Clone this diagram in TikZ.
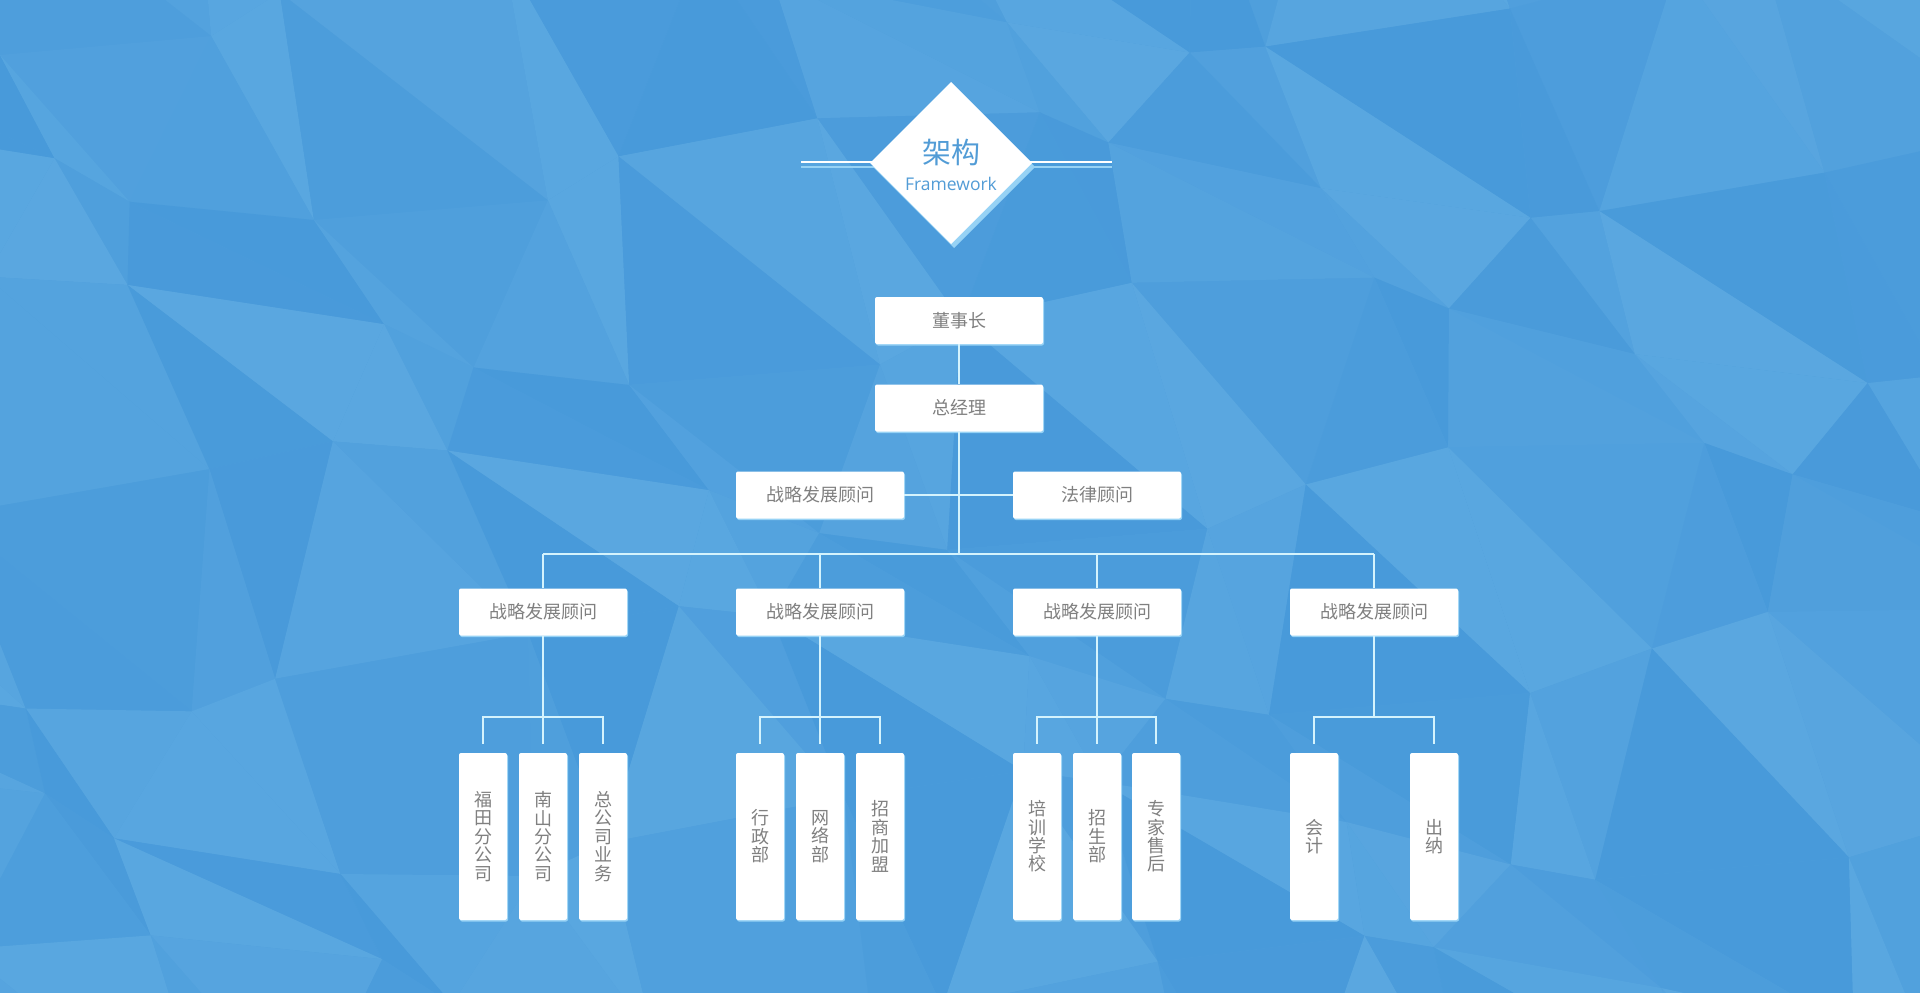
\documentclass[tikz,border=0pt]{standalone}
\usepackage{fontspec}
\setmainfont{Open Sans}
\newfontfamily\cjk{Noto Sans CJK SC}
\usetikzlibrary{shadows}
\definecolor{bgdark}{RGB}{70,152,217}
\definecolor{bglight}{RGB}{92,169,225}
\definecolor{bgbase}{RGB}{80,160,221}
\definecolor{linec}{RGB}{212,243,253}
\definecolor{txt}{RGB}{128,128,128}
\definecolor{titleblue}{RGB}{82,156,214}
\definecolor{shadowblue}{RGB}{150,210,245}
\begin{document}
\begin{tikzpicture}[x=1pt,y=-1pt,
  box/.style={fill=white, rounded corners=2pt, minimum width=168pt, minimum height=47pt,
    inner sep=0pt, font=\cjk\fontsize{18}{18}\selectfont, text=txt,
    drop shadow={shadow xshift=1pt, shadow yshift=-1.5pt, fill=shadowblue, opacity=1}},
  subbox/.style={box, minimum width=48pt, minimum height=167pt, align=center,
    font=\cjk\fontsize{18}{18.4}\selectfont},
  conn/.style={draw=linec, line width=1.4pt}]
\useasboundingbox (0,0) rectangle (1920,993);
% background
\fill[bgbase] (0,0) rectangle (1920,993);
\begin{scope}
\clip (0,0) rectangle (1920,993);
\foreach \i in {-1,...,12} {
  \foreach \j in {-1,...,6} {
    \pgfmathsetmacro\pAx{\i*165+55*sin(\i*123+\j*457)}
    \pgfmathsetmacro\pAy{\j*165+55*cos(\i*311+\j*97)}
    \pgfmathsetmacro\pBx{(\i+1)*165+55*sin((\i+1)*123+\j*457)}
    \pgfmathsetmacro\pBy{\j*165+55*cos((\i+1)*311+\j*97)}
    \pgfmathsetmacro\pCx{\i*165+55*sin(\i*123+(\j+1)*457)}
    \pgfmathsetmacro\pCy{(\j+1)*165+55*cos(\i*311+(\j+1)*97)}
    \pgfmathsetmacro\pDx{(\i+1)*165+55*sin((\i+1)*123+(\j+1)*457)}
    \pgfmathsetmacro\pDy{(\j+1)*165+55*cos((\i+1)*311+(\j+1)*97)}
    \pgfmathtruncatemacro\shA{50+40*sin(\i*77+\j*191)}
    \pgfmathtruncatemacro\shB{50+40*sin(\i*143+\j*59+40)}
    \fill[bglight!\shA!bgdark] (\pAx,\pAy) -- (\pBx,\pBy) -- (\pDx,\pDy) -- cycle;
    \fill[bglight!\shB!bgdark] (\pAx,\pAy) -- (\pDx,\pDy) -- (\pCx,\pCy) -- cycle;
  }
}
\end{scope}
% title
\draw[white, line width=1.8pt] (801,162) -- (1112,162);
\draw[shadowblue, line width=2pt] (801,167) -- (1112,167);
\fill[shadowblue] (954,86) -- (1035,167) -- (954,248) -- (873,167) -- cycle;
\fill[white] (951,82) -- (1032,163) -- (951,244) -- (870,163) -- cycle;
\node[text=titleblue, font=\cjk\fontsize{29}{29}\selectfont, inner sep=0pt] (tcn) at (951,152) {架构};
\node[text=titleblue, font=\fontsize{17.5}{17.5}\selectfont, inner sep=0pt, anchor=base] (ten) at (951,190) {Framework};
% nodes
\node[box] (ceo) at (959,320.5) {董事长};
\node[box] (gm) at (959,408) {总经理};
\node[box] (adv1) at (820,495) {战略发展顾问};
\node[box] (adv2) at (1097,495) {法律顾问};
\node[box] (m1) at (543,612) {战略发展顾问};
\node[box] (m2) at (820,612) {战略发展顾问};
\node[box] (m3) at (1097,612) {战略发展顾问};
\node[box] (m4) at (1374,612) {战略发展顾问};
\node[subbox] (s11) at (483,836.5) {福\\田\\分\\公\\司};
\node[subbox] (s12) at (543,836.5) {南\\山\\分\\公\\司};
\node[subbox] (s13) at (603,836.5) {总\\公\\司\\业\\务};
\node[subbox] (s21) at (760,836.5) {行\\政\\部};
\node[subbox] (s22) at (820,836.5) {网\\络\\部};
\node[subbox] (s23) at (880,836.5) {招\\商\\加\\盟};
\node[subbox] (s31) at (1037,836.5) {培\\训\\学\\校};
\node[subbox] (s32) at (1097,836.5) {招\\生\\部};
\node[subbox] (s33) at (1156,836.5) {专\\家\\售\\后};
\node[subbox] (s41) at (1314,836.5) {会\\计};
\node[subbox] (s42) at (1434,836.5) {出\\纳};
\coordinate (busA) at (0,554);
\coordinate (busB) at (0,717);
% connectors
\draw[conn] (ceo.south) -- (gm.north);
\draw[conn] (gm.south) -- (gm.south |- busA);
\draw[conn] (adv1.east) -- (adv2.west);
\draw[conn] (m1.north |- busA) -- (m4.north |- busA);
\foreach \m in {m1,m2,m3,m4} {
  \draw[conn] (\m.north |- busA) -- (\m.north);
}
\foreach \s/\m in {s11/m1,s12/m1,s13/m1,s21/m2,s22/m2,s23/m2,s31/m3,s32/m3,s33/m3,s41/m4,s42/m4} {
  \draw[conn] ([yshift=9pt]\s.north) -- (\s.north |- busB) -- (\m.south |- busB) -- (\m.south);
}
\end{tikzpicture}
\end{document}
